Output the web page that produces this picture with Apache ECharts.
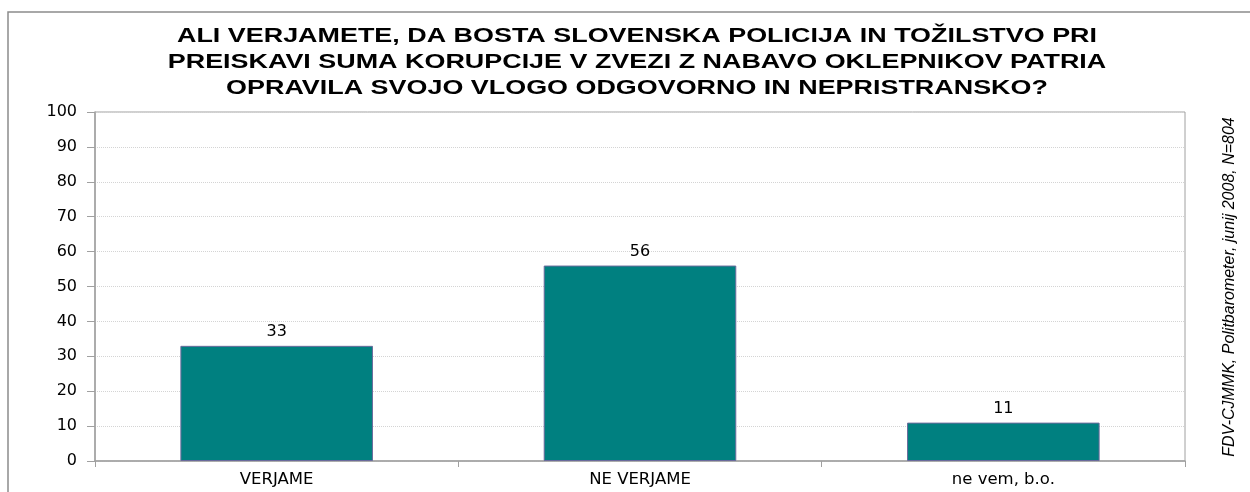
<!DOCTYPE html>
<html>
<head>
<meta charset="utf-8">
<script src="https://cdn.jsdelivr.net/npm/echarts@6/dist/echarts.min.js"></script>
<style>
  html, body { margin: 0; padding: 0; background: #fff; }
  #chart { width: 1250px; height: 492px; }
</style>
</head>
<body>
<div id="chart"></div>
<script>
const categories = ['VERJAME', 'NE VERJAME', 'ne vem, b.o.']
const values = [33, 56, 11]
const titleLines = [
  'ALI VERJAMETE, DA BOSTA SLOVENSKA POLICIJA IN TOŽILSTVO PRI',
  'PREISKAVI SUMA KORUPCIJE V ZVEZI Z NABAVO OKLEPNIKOV PATRIA',
  'OPRAVILA SVOJO VLOGO ODGOVORNO IN NEPRISTRANSKO?'
]
const sourceNote = 'FDV-CJMMK, Politbarometer, junij 2008, N=804'

const labelFont = 'DejaVu Sans, Liberation Sans, Arial, sans-serif'

const chart = echarts.init(document.getElementById('chart'))

chart.setOption({
  animation: false,
  textStyle: { fontFamily: labelFont },
  graphic: [
    {
      type: 'rect',
      shape: { x: 8, y: 12, width: 1260, height: 500 },
      style: { fill: 'none', stroke: '#8c8c8c', lineWidth: 1.5 },
      silent: true
    },
    {
      type: 'rect',
      shape: { x: 95, y: 112, width: 1090, height: 349 },
      style: { fill: 'none', stroke: '#a0a0a0', lineWidth: 1 },
      silent: true
    },
    {
      // title, stretched wide like the original
      type: 'text',
      x: 637,
      y: 24,
      scaleX: 1.38,
      style: {
        text: titleLines.join('\n'),
        fontSize: 19.5,
        fontWeight: 'bold',
        fontFamily: 'Liberation Sans, Arial, sans-serif',
        lineHeight: 26,
        fill: '#000',
        align: 'center',
        verticalAlign: 'top'
      }
    },
    {
      type: 'text',
      x: 1230,
      y: 287,
      rotation: Math.PI / 2,
      style: {
        text: sourceNote,
        fontSize: 16,
        fontStyle: 'italic',
        fontFamily: 'Liberation Sans, Arial, sans-serif',
        fill: '#000',
        align: 'center',
        verticalAlign: 'middle'
      }
    }
  ],
  grid: {
    left: 95,
    right: 65,
    top: 112,
    bottom: 31,
    containLabel: false
  },
  xAxis: {
    type: 'category',
    data: categories,
    axisLine: { lineStyle: { color: '#a0a0a0', width: 1.5 } },
    axisTick: { show: true, length: 6, lineStyle: { color: '#a0a0a0' } },
    axisLabel: {
      color: '#000',
      fontSize: 16.5,
      margin: 10
    }
  },
  yAxis: {
    type: 'value',
    min: 0,
    max: 100,
    interval: 10,
    axisLine: { show: true, lineStyle: { color: '#a0a0a0', width: 1.5 } },
    axisTick: { show: true, length: 8, lineStyle: { color: '#a0a0a0' } },
    axisLabel: {
      color: '#000',
      fontSize: 16,
      margin: 18
    },
    splitLine: {
      lineStyle: { color: '#d4d4d4', type: 'dotted' }
    }
  },
  series: [
    {
      type: 'bar',
      data: values,
      barWidth: '53%',
      itemStyle: {
        color: '#008080',
        borderColor: '#6a6a9c',
        borderWidth: 1
      },
      label: {
        show: true,
        position: 'top',
        distance: 6,
        color: '#000',
        fontSize: 16
      }
    }
  ]
})
</script>
</body>
</html>
